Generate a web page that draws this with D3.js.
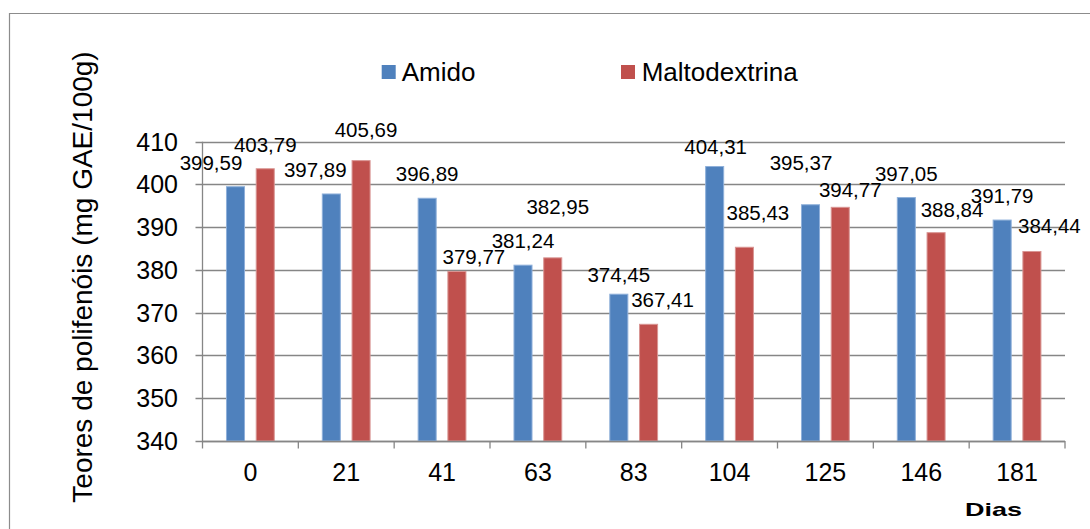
<!DOCTYPE html>
<html>
<head>
<meta charset="utf-8">
<script src="https://cdn.jsdelivr.net/npm/d3@7"></script>
<style>
  html, body { margin: 0; padding: 0; background: #fff; }
  svg { display: block; }
  text { font-family: "Liberation Sans", Arial, sans-serif; fill: #000; }
</style>
</head>
<body>
<svg id="chart" width="1090" height="529"></svg>
<script>
// Storage days
const days = ["0", "21", "41", "63", "83", "104", "125", "146", "181"];
// Series names
const seriesNames = ["Amido", "Maltodextrina"];
// Polyphenol content (mg GAE/100g)
const amido = [399.59, 397.89, 396.89, 381.24, 374.45, 404.31, 395.37, 397.05, 391.79];
const maltodextrina = [403.79, 405.69, 379.77, 382.95, 367.41, 385.43, 394.77, 388.84, 384.44];
// Y axis ticks
const yTicks = [340, 350, 360, 370, 380, 390, 400, 410];

// Hand-placed label nudges [dx, dy] from the default spot above each bar
const amidoLabelNudge = [[-24.5, 0], [-16, 0], [0, 0], [0, 0], [0, 5], [1, 4], [-9.5, -18], [0, 0], [0, 0]];
const maltoLabelNudge = [[0, 0], [5, -7], [17, 9.5], [5, -27], [14, 0], [13.5, -10], [10, 7], [16, 1], [17.5, -1]];

const colors = { "Amido": "#4F81BD", "Maltodextrina": "#C0504D" };
const strokes = { "Amido": "#8fb0da", "Maltodextrina": "#d99593" };

const svg = d3.select("#chart");

// Outer frame (left and top edges visible)
svg.append("path")
  .attr("d", "M9.5,600 L9.5,13.5 L1100,13.5")
  .attr("fill", "none").attr("stroke", "#8c8c8c").attr("stroke-width", 1.2);

const plotLeft = 202.5, plotRight = 1065, plotTop = 141.7, plotBottom = 441;

const x = d3.scaleBand().domain(days).range([plotLeft, plotRight]).padding(0);
const bw = x.bandwidth();
const x1 = d3.scaleBand().domain(seriesNames)
  .range([bw * 0.245, bw * 0.754]).paddingInner(0.36);
const y = d3.scaleLinear().domain([340, 410]).range([plotBottom, plotTop]);

// Gridlines with outward tick marks
const grid = svg.append("g");
grid.selectAll("line").data(yTicks).join("line")
  .attr("x1", plotLeft - 7).attr("x2", plotRight)
  .attr("y1", d => Math.round(y(d)) + 0.5).attr("y2", d => Math.round(y(d)) + 0.5)
  .attr("stroke", "#868686").attr("stroke-width", 1.3);

// Y axis line
svg.append("line")
  .attr("x1", plotLeft).attr("x2", plotLeft)
  .attr("y1", plotTop).attr("y2", plotBottom + 0.5)
  .attr("stroke", "#868686").attr("stroke-width", 1.3);

// Y tick labels
svg.append("g").selectAll("text").data(yTicks).join("text")
  .attr("x", 178).attr("y", d => y(d) + 9)
  .attr("text-anchor", "end").attr("font-size", 25)
  .text(d => d);

// Bars
const series = [
  { name: "Amido", values: amido, nudge: amidoLabelNudge },
  { name: "Maltodextrina", values: maltodextrina, nudge: maltoLabelNudge }
];

series.forEach(s => {
  const g = svg.append("g");
  g.selectAll("rect").data(s.values).join("rect")
    .attr("x", (d, i) => x(days[i]) + x1(s.name) + 0.5)
    .attr("y", d => y(d) + 0.5)
    .attr("width", x1.bandwidth() - 1)
    .attr("height", d => y(340) - y(d) - 0.5)
    .attr("fill", colors[s.name])
    .attr("stroke", strokes[s.name]).attr("stroke-width", 1);
});

// X axis line and category ticks
svg.append("line")
  .attr("x1", plotLeft).attr("x2", plotRight)
  .attr("y1", plotBottom + 0.5).attr("y2", plotBottom + 0.5)
  .attr("stroke", "#868686").attr("stroke-width", 1.3);
const boundaries = days.map(d => x(d)).concat([plotRight]);
svg.append("g").selectAll("line").data(boundaries).join("line")
  .attr("x1", d => d).attr("x2", d => d)
  .attr("y1", plotBottom).attr("y2", plotBottom + 7.5)
  .attr("stroke", "#868686").attr("stroke-width", 1.3);

// X tick labels
svg.append("g").selectAll("text").data(days).join("text")
  .attr("x", d => x(d) + bw / 2).attr("y", 481)
  .attr("text-anchor", "middle").attr("font-size", 25)
  .text(d => d);

// Value labels
const fmt = v => v.toFixed(2).replace(".", ",");
series.forEach(s => {
  svg.append("g").selectAll("text").data(s.values).join("text")
    .attr("x", (d, i) => x(days[i]) + x1(s.name) + x1.bandwidth() / 2 + s.nudge[i][0])
    .attr("y", (d, i) => y(d) - 16.5 + s.nudge[i][1])
    .attr("text-anchor", "middle").attr("font-size", 20.5)
    .text(d => fmt(d));
});

// Legend
const legendPos = [{ sx: 381.7, tx: 401.7 }, { sx: 621, tx: 641.7 }];
const lg = svg.append("g");
seriesNames.forEach((n, i) => {
  lg.append("rect")
    .attr("x", legendPos[i].sx).attr("y", 65)
    .attr("width", 14).attr("height", 14)
    .attr("fill", colors[n]);
  lg.append("text")
    .attr("x", legendPos[i].tx).attr("y", 80.7)
    .attr("font-size", 26)
    .text(n);
});

// Y axis title
svg.append("text")
  .attr("transform", "translate(92,277) rotate(-90)")
  .attr("text-anchor", "middle").attr("font-size", 28)
  .text("Teores de polifenóis (mg GAE/100g)");

// X axis title
svg.append("text")
  .attr("x", 965).attr("y", 516)
  .attr("font-size", 18.5).attr("font-weight", 900)
  .attr("textLength", 57).attr("lengthAdjust", "spacingAndGlyphs")
  .text("Dias");
</script>
</body>
</html>
